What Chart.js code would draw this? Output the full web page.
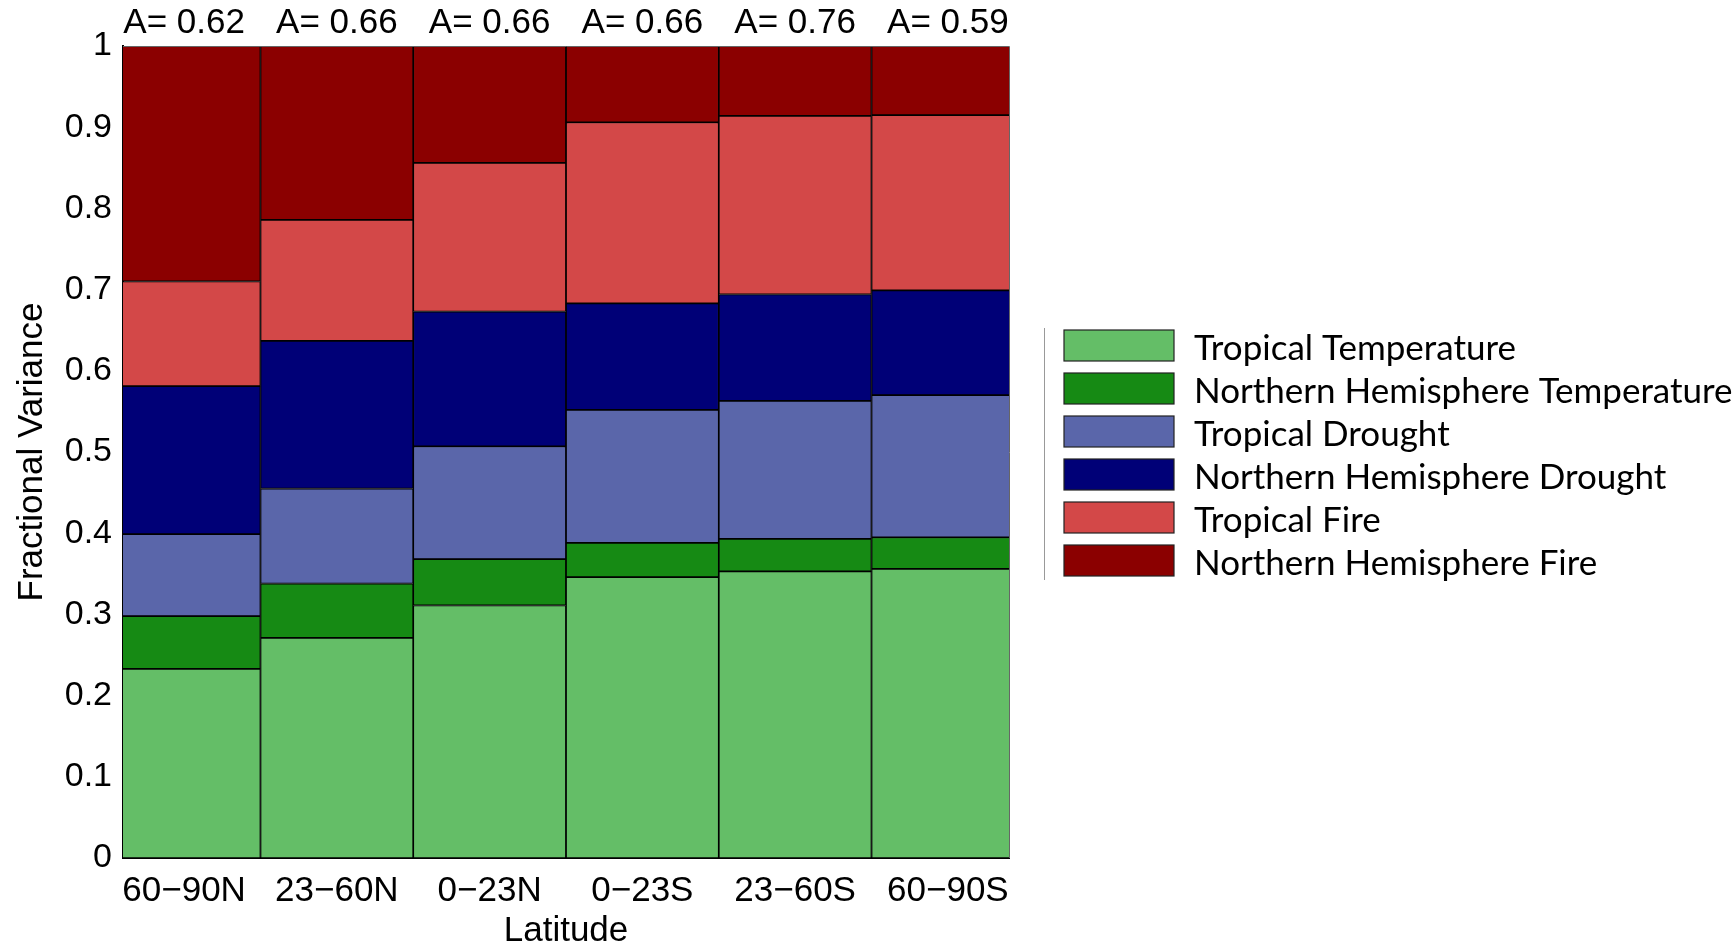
<!DOCTYPE html>
<html>
<head>
<meta charset="utf-8">
<script src="https://cdn.jsdelivr.net/npm/chart.js@4.4.1/dist/chart.umd.min.js"></script>
<style>
  html, body { margin: 0; padding: 0; background: #ffffff; }
  canvas { display: block; }
</style>
</head>
<body>
<canvas id="chart" width="1733" height="947"></canvas>
<script>
// Latitude bands and the amplitude printed above each column
const latitudeBands = ['60\u221290N', '23\u221260N', '0\u221223N', '0\u221223S', '23\u221260S', '60\u221290S'];
const amplitudes = [0.62, 0.66, 0.66, 0.66, 0.76, 0.59];

// Fractional variance contributed by each forcing, per band (stacked bottom to top)
const tropicalTemperature = [0.233, 0.271, 0.311, 0.346, 0.353, 0.356];
const nhTemperature       = [0.065, 0.067, 0.057, 0.042, 0.040, 0.039];
const tropicalDrought     = [0.101, 0.117, 0.139, 0.164, 0.170, 0.175];
const nhDrought           = [0.182, 0.182, 0.166, 0.131, 0.131, 0.129];
const tropicalFire        = [0.129, 0.149, 0.183, 0.223, 0.220, 0.216];
const nhFire              = [0.290, 0.214, 0.144, 0.094, 0.086, 0.085];

const seriesNames = [
  'Tropical Temperature',
  'Northern Hemisphere Temperature',
  'Tropical Drought',
  'Northern Hemisphere Drought',
  'Tropical Fire',
  'Northern Hemisphere Fire'
];
const seriesValues = [tropicalTemperature, nhTemperature, tropicalDrought, nhDrought, tropicalFire, nhFire];
const seriesColors = ['#64be67', '#168a14', '#5a66aa', '#000077', '#d34848', '#8b0000'];

const yTicks = [0, 0.1, 0.2, 0.3, 0.4, 0.5, 0.6, 0.7, 0.8, 0.9, 1];

const sansFont = '"Liberation Sans", Arial, Helvetica, sans-serif';

const datasets = seriesNames.map((name, s) => ({
  label: name,
  data: seriesValues[s].map((v, i) => ({ x: i + 1, y: v })),
  backgroundColor: seriesColors[s],
  borderColor: '#000000',
  borderWidth: 1.2,
  borderSkipped: false,
  barPercentage: 1,
  categoryPercentage: 1,
  clip: 0
}));

// Amplitude labels above each column, frame lines and the side legend
const annotations = {
  id: 'annotations',
  afterDraw(chart) {
    const { ctx, chartArea, scales } = chart;
    ctx.save();

    // thin top and right frame lines
    ctx.strokeStyle = '#666666';
    ctx.lineWidth = 1;
    ctx.beginPath();
    ctx.moveTo(chartArea.left, chartArea.top + 0.5);
    ctx.lineTo(chartArea.right + 0.5, chartArea.top + 0.5);
    ctx.lineTo(chartArea.right + 0.5, chartArea.bottom);
    ctx.stroke();

    // A= labels
    ctx.fillStyle = '#000000';
    ctx.font = '35px ' + sansFont;
    ctx.textAlign = 'center';
    ctx.textBaseline = 'middle';
    amplitudes.forEach((a, i) => {
      const x = scales.x.getPixelForValue(i + 1);
      ctx.fillText('A= ' + a.toFixed(2), x, 23);
    });

    // legend
    const lx = 1044.5;
    ctx.strokeStyle = '#999999';
    ctx.lineWidth = 1;
    ctx.beginPath();
    ctx.moveTo(lx, 328);
    ctx.lineTo(lx, 580);
    ctx.stroke();

    const boxLeft = 1064, boxW = 110, boxH = 31, rowTop = 330, pitch = 43;
    ctx.font = '35px Lato, "Open Sans", sans-serif';
    ctx.textAlign = 'left';
    ctx.textBaseline = 'middle';
    seriesNames.forEach((name, s) => {
      const y = rowTop + s * pitch;
      ctx.fillStyle = seriesColors[s];
      ctx.fillRect(boxLeft, y, boxW, boxH);
      ctx.strokeStyle = '#222222';
      ctx.lineWidth = 1.2;
      ctx.strokeRect(boxLeft, y, boxW, boxH);
      ctx.fillStyle = '#000000';
      ctx.fillText(name, 1194, y + boxH / 2 + 3);
    });
    ctx.restore();
  }
};

new Chart(document.getElementById('chart'), {
  type: 'bar',
  data: { datasets },
  options: {
    responsive: false,
    devicePixelRatio: 1,
    animation: false,
    events: [],
    layout: { padding: { left: 0, top: 46, right: 724, bottom: 0 } },
    plugins: {
      legend: { display: false },
      tooltip: { enabled: false }
    },
    scales: {
      x: {
        type: 'linear',
        stacked: true,
        offset: false,
        min: 0.6,
        max: 6.4,
        afterBuildTicks: (scale) => {
          scale.ticks = latitudeBands.map((_, i) => ({ value: i + 1 }));
        },
        afterFit: (scale) => { scale.height = 89; },
        grid: { display: false, drawTicks: false, offset: false },
        border: { display: true, color: '#000000', width: 2 },
        ticks: {
          autoSkip: false,
          maxRotation: 0,
          padding: 12,
          color: '#000000',
          font: { family: sansFont, size: 35 },
          callback: (v) => latitudeBands[Math.round(v) - 1]
        },
        title: {
          display: true,
          text: 'Latitude',
          color: '#000000',
          font: { family: sansFont, size: 35, lineHeight: 0.9 },
          padding: 0
        }
      },
      y: {
        stacked: true,
        min: 0,
        max: 1,
        afterBuildTicks: (scale) => {
          scale.ticks = yTicks.map(v => ({ value: v }));
        },
        afterFit: (scale) => { scale.width = 123; },
        grid: { display: false, drawTicks: false },
        border: { display: true, color: '#000000', width: 2 },
        ticks: {
          padding: 11,
          color: '#000000',
          font: { family: sansFont, size: 34 },
          callback: (v) => String(+v.toFixed(1))
        },
        title: {
          display: true,
          text: 'Fractional Variance',
          color: '#000000',
          font: { family: sansFont, size: 35, lineHeight: 1.82 },
          padding: 0
        }
      }
    }
  },
  plugins: [annotations]
});
</script>
</body>
</html>
